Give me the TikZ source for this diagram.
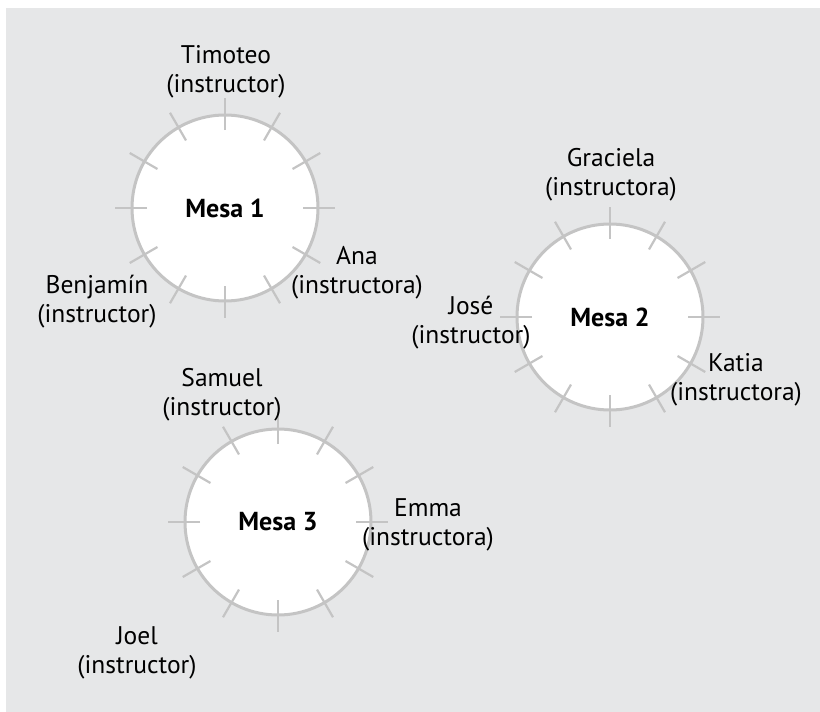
\documentclass[tikz,border=0pt]{standalone}
\usepackage{fontspec}
\setmainfont{PT Sans}
\usepackage{tikz}
\definecolor{fondo}{HTML}{E6E7E8}
\definecolor{borde}{HTML}{C4C4C4}
\tikzset{
  mesa/.style={circle,draw=borde,line width=3pt,fill=white,minimum size=186pt,inner sep=0pt,font=\fontsize{26}{30}\selectfont\bfseries},
  silla/.style={draw=borde,line width=2.2pt},
  nombre/.style={align=center,font=\fontsize{25.5}{29}\selectfont}
}

\begin{document}
\begin{tikzpicture}[x=1pt,y=-1pt]
\useasboundingbox (0,0) rectangle (820,712);
\fill[fondo] (6,8) rectangle (820,712);
\node[mesa] (mesa1) at (225,208) {Mesa 1};
\node[mesa] (mesa2) at (610,317) {Mesa 2};
\node[mesa] (mesa3) at (278,522) {Mesa 3};
\foreach \m in {mesa1,mesa2,mesa3}
  \foreach \a in {0,30,...,330}
    \draw[silla] ([shift={(\a:78pt)}]\m.center) -- ([shift={(\a:110pt)}]\m.center);
\node[nombre] (timoteo) at (226,72) {Timoteo\\(instructor)};
\node[nombre] (ana) at (357,273) {Ana\\(instructora)};
\node[nombre] (benjamin) at (97,302) {Benjamín\\(instructor)};
\node[nombre] (graciela) at (611,175) {Graciela\\(instructora)};
\node[nombre] (jose) at (471,323) {José\\(instructor)};
\node[nombre] (katia) at (736,380) {Katia\\(instructora)};
\node[nombre] (samuel) at (222,395) {Samuel\\(instructor)};
\node[nombre] (emma) at (428,525) {Emma\\(instructora)};
\node[nombre] (joel) at (137,653) {Joel\\(instructor)};
\end{tikzpicture}
\end{document}
